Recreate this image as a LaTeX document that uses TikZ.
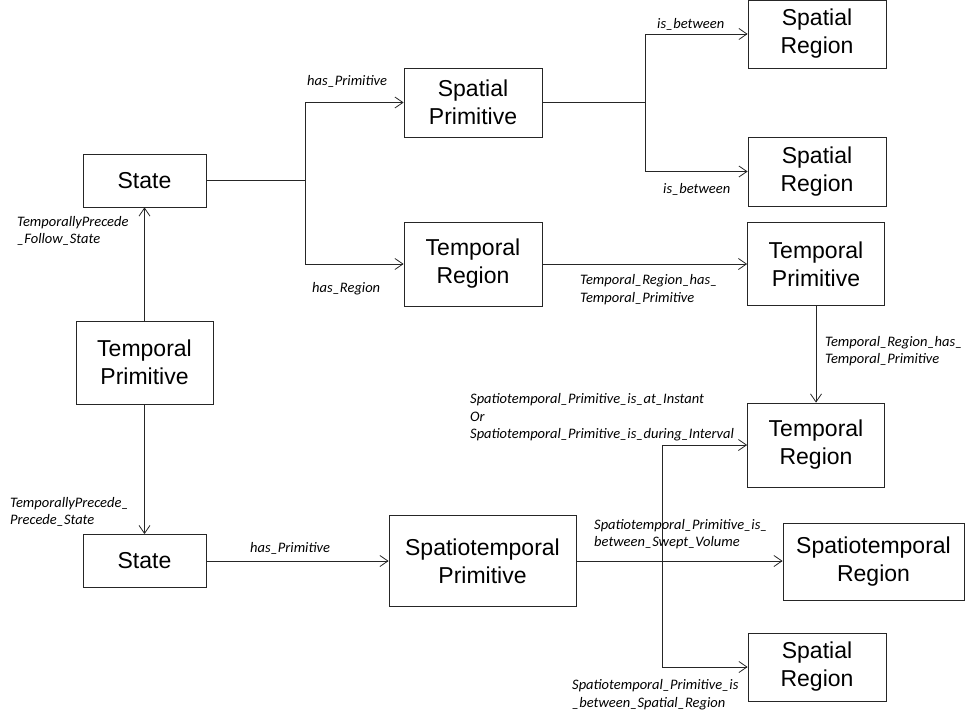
\documentclass[tikz,border=0pt]{standalone}
\usepackage{fontspec}
\setmainfont{Liberation Sans}
\newfontfamily\labfont{Carlito}
\usetikzlibrary{arrows.meta}
\begin{document}
\begin{tikzpicture}[x=1pt,y=-1pt,
  box/.style={draw=black!85,line width=0.8pt,inner sep=0pt,align=center,
    font=\fontsize{23}{28}\selectfont},
  lab/.style={inner sep=0pt,align=left,anchor=west,
    font=\labfont\itshape\fontsize{14.5}{17.5}\selectfont},
  ln/.style={draw=black!85,line width=0.8pt},
  arr/.style={ln,-{Straight Barb[length=8pt,width=11pt]}}]
\useasboundingbox (0,0) rectangle (965,717);
% boxes
\node[box,minimum width=123pt,minimum height=53pt] (state1) at (144.5,180.5) {State};
\node[box,minimum width=137pt,minimum height=83pt] (tp1) at (144.5,362.5) {Temporal\\Primitive};
\node[box,minimum width=123pt,minimum height=53pt] (state2) at (144.5,561) {State};
\node[box,minimum width=138pt,minimum height=69pt] (sp) at (473,102.5) {Spatial\\Primitive};
\node[box,minimum width=138pt,minimum height=84pt] (tr1) at (473,264) {Temporal\\Region};
\node[box,minimum width=138pt,minimum height=68pt] (sr1) at (817,34) {Spatial\\Region};
\node[box,minimum width=138pt,minimum height=69pt] (sr2) at (817,171.5) {Spatial\\Region};
\node[box,minimum width=137pt,minimum height=83pt] (tp2) at (816,264) {Temporal\\Primitive};
\node[box,minimum width=137pt,minimum height=84pt] (tr2) at (816,445) {Temporal\\Region};
\node[box,minimum width=187pt,minimum height=91pt] (stp) at (482.5,561) {Spatiotemporal\\Primitive};
\node[box,minimum width=181pt,minimum height=77pt] (str) at (873.5,561.5) {Spatiotemporal\\Region};
\node[box,minimum width=138pt,minimum height=68pt] (sr3) at (817,667) {Spatial\\Region};
% junctions
\coordinate (b1) at (305,180.5);
\coordinate (b2) at (645,102.5);
\coordinate (b3) at (662,561);
% connectors
\draw[ln] (state1.east) -- (b1);
\draw[arr] (b1) |- (sp.west);
\draw[arr] (b1) |- (tr1.west);
\draw[ln] (sp.east) -- (b2);
\draw[arr] (b2) |- (sr1.west);
\draw[arr] (b2) |- (sr2.west);
\draw[arr] (tr1.east) -- (tp2.west);
\draw[arr] (tp2.south) -- (tr2.north);
\draw[arr] (tp1.north) -- (state1.south);
\draw[arr] (tp1.south) -- (state2.north);
\draw[arr] (state2.east) -- (stp.west);
\draw[arr] (stp.east) -- (stp.east -| str.west);
\draw[arr] (b3) |- (tr2.west);
\draw[arr] (b3) |- (sr3.west);
% labels
\node[lab] (l1) at (17,231) {TemporallyPrecede\\\_Follow\_State};
\node[lab] (l2) at (10,512) {TemporallyPrecede\_\\Precede\_State};
\node[lab] (l3) at (307,81) {has\_Primitive};
\node[lab] (l4) at (312,289) {has\_Region};
\node[lab] (l5) at (657,24) {is\_between};
\node[lab] (l6) at (663,189) {is\_between};
\node[lab] (l7) at (580,289.5) {Temporal\_Region\_has\_\\Temporal\_Primitive};
\node[lab] (l8) at (825,351) {Temporal\_Region\_has\_\\Temporal\_Primitive};
\node[lab] (l9) at (470,417.5) {Spatiotemporal\_Primitive\_is\_at\_Instant\\Or\\Spatiotemporal\_Primitive\_is\_during\_Interval};
\node[lab] (l10) at (250,548) {has\_Primitive};
\node[lab] (l11) at (594,534) {Spatiotemporal\_Primitive\_is\_\\between\_Swept\_Volume};
\node[lab] (l12) at (572,694.5) {Spatiotemporal\_Primitive\_is\\\_between\_Spatial\_Region};
\end{tikzpicture}
\end{document}
